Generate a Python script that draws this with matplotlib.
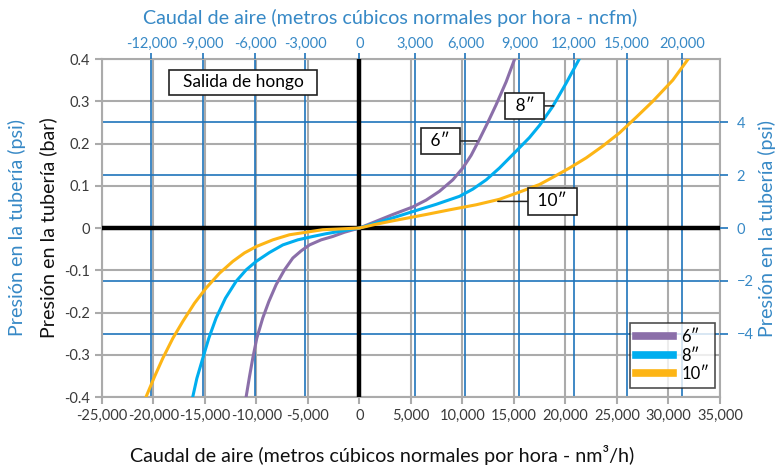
import matplotlib.pyplot as plt

plt.rcParams['font.family'] = ['Lato', 'DejaVu Sans']

# flow in nm3/h, pressure in bar
x_6 = [-11000, -10680, -10360, -9970, -9390, -8800, -8090, -7280, -6470, -5660, -4850, -3720, -2590, -1460, 0,
       1620, 3240, 5180, 6470, 7770, 9060, 10030, 10840, 11650, 12460, 13270, 14240, 15050]
y_6 = [-0.399, -0.352, -0.308, -0.261, -0.213, -0.174, -0.134, -0.099, -0.071, -0.054, -0.040, -0.028, -0.020, -0.010, 0,
       0.016, 0.032, 0.050, 0.066, 0.087, 0.114, 0.142, 0.172, 0.210, 0.250, 0.292, 0.346, 0.399]

x_8 = [-16180, -15790, -15210, -14630, -13920, -13010, -11970, -11000, -10030, -8740, -7440, -5990, -4530, -3240, -1940, 0,
       1620, 3240, 5180, 7440, 9710, 11000, 12300, 13590, 14890, 16500, 17480, 18770, 20070, 21360]
y_8 = [-0.399, -0.356, -0.308, -0.261, -0.213, -0.166, -0.126, -0.099, -0.079, -0.058, -0.040, -0.028, -0.020, -0.0135, -0.008, 0,
       0.012, 0.024, 0.039, 0.056, 0.075, 0.092, 0.114, 0.142, 0.174, 0.214, 0.243, 0.288, 0.343, 0.401]

x_10 = [-20710, -19900, -19090, -18120, -17150, -16020, -14890, -13590, -12300, -11170, -10030, -8410, -6800, -5180, -3560, 0,
        1620, 3240, 6470, 8740, 11330, 13590, 15530, 17480, 18770, 20390, 22010, 23620, 25240, 26860, 28480, 30420, 31880]
y_10 = [-0.399, -0.352, -0.308, -0.261, -0.221, -0.178, -0.142, -0.107, -0.079, -0.059, -0.044, -0.028, -0.016, -0.010, -0.004, 0,
        0.009, 0.017, 0.032, 0.043, 0.055, 0.068, 0.085, 0.103, 0.120, 0.142, 0.166, 0.194, 0.225, 0.262, 0.300, 0.350, 0.399]

bottom_ticks = list(range(-25000, 35001, 5000))
left_ticks = [-0.4, -0.3, -0.2, -0.1, 0, 0.1, 0.2, 0.3, 0.4]
top_pos = [-20220, -15210, -10146, -5243, 0, 5437, 10291, 15534, 20806, 25951, 31330]
top_labels = ['-12,000', '-9,000', '-6,000', '-3,000', '0', '3,000', '6,000', '9,000', '12,000', '15,000', '20,000']
psi_ticks = [-4, -2, 0, 2, 4]
psi_per_bar = 16

purple = '#8b6fa9'
cyan = '#00aeef'
yellow = '#fdb515'
blue = '#1f74bb'
blue_txt = '#3789c6'
grey = '#ababab'
dark = '#3a3a3a'

fig = plt.figure(figsize=(7.82, 4.65), dpi=100)
ax = fig.add_axes([0.1304, 0.1462, 0.7903, 0.7269])

ax.set_xlim(-25000, 35000)
ax.set_ylim(-0.4, 0.4)

for x in bottom_ticks:
    ax.axvline(x, color=grey, lw=1.5, zorder=1)
for y in left_ticks:
    ax.axhline(y, color=grey, lw=1.5, zorder=1)
for x in top_pos:
    ax.axvline(x, color=blue, lw=1.2, zorder=2)
for p in psi_ticks:
    ax.axhline(p / psi_per_bar, color=blue, lw=1.2, zorder=2)
ax.axvline(0, color='black', lw=3.2, zorder=3)
ax.axhline(0, color='black', lw=3.2, zorder=3)

l6, = ax.plot(x_6, y_6, color=purple, lw=2.2, zorder=5, solid_joinstyle='round')
l8, = ax.plot(x_8, y_8, color=cyan, lw=2.2, zorder=5, solid_joinstyle='round')
l10, = ax.plot(x_10, y_10, color=yellow, lw=2.2, zorder=5, solid_joinstyle='round')

ax.set_xticks(bottom_ticks)
ax.set_xticklabels([f'{t:,}' for t in bottom_ticks])
ax.set_yticks(left_ticks)
ax.set_yticklabels(['-0.4', '-0.3', '-0.2', '-0.1', '0', '0.1', '0.2', '0.3', '0.4'])
ax.tick_params(colors=grey, labelcolor=dark, labelsize=10.5, length=5, width=1.5)
for s in ax.spines.values():
    s.set_color(grey)
    s.set_linewidth(1.5)

ax.set_xlabel('Caudal de aire (metros cúbicos normales por hora - nm³/h)', fontsize=14.2, color='#111111', labelpad=16)
ax.xaxis.label.set_x(0.453)
ax.set_ylabel('Presión en la tubería (bar)', fontsize=14.2, color='#111111', labelpad=5)
fig.text(0.022, 0.51, 'Presión en la tubería (psi)', rotation=90, fontsize=14.2, color=blue_txt, ha='center', va='center')

top = ax.twiny()
top.set_xlim(ax.get_xlim())
top.set_xticks(top_pos)
top.set_xticklabels(top_labels)
top.tick_params(colors=blue, labelcolor=blue_txt, labelsize=10.5, length=4, width=1.2, pad=2)
top.set_xlabel('Caudal de aire (metros cúbicos normales por hora - ncfm)', fontsize=14.2, color=blue_txt, labelpad=9)
top.xaxis.label.set_x(0.466)
for s in top.spines.values():
    s.set_visible(False)

right = ax.twinx()
right.set_ylim(-0.4 * psi_per_bar, 0.4 * psi_per_bar)
right.set_yticks(psi_ticks)
right.tick_params(colors=blue, labelcolor=blue_txt, labelsize=10.5, length=6, width=1.2, pad=6)
right.set_ylabel('Presión en la tubería (psi)', fontsize=14.2, color=blue_txt, labelpad=3)
for s in right.spines.values():
    s.set_visible(False)

box = dict(boxstyle='square,pad=0.3', fc='white', ec='#222222', lw=1.2)
line = dict(arrowstyle='-', color='#222222', lw=1.1, shrinkA=0, shrinkB=0)
ax.text(-11290, 0.345, '  Salida de hongo  ', fontsize=12.5, ha='center', va='center',
        bbox=dict(boxstyle='square,pad=0.25', fc='white', ec='#222222', lw=1.2), zorder=6)
ax.annotate(' 6″ ', xy=(11400, 0.206), xytext=(7860, 0.206), fontsize=12.5, ha='center', va='center',
            bbox=box, arrowprops=line, zorder=6)
ax.annotate(' 8″ ', xy=(18850, 0.289), xytext=(16050, 0.289), fontsize=12.5, ha='center', va='center',
            bbox=box, arrowprops=line, zorder=6)
ax.annotate(' 10″ ', xy=(13430, 0.063), xytext=(18720, 0.063), fontsize=12.5, ha='center', va='center',
            bbox=box, arrowprops=line, zorder=6)

leg = ax.legend([l6, l8, l10], ['6″', '8″', '10″'], loc='lower right', bbox_to_anchor=(0.992, 0.027),
                fontsize=12, frameon=True, fancybox=False, handlelength=2.2, handletextpad=0.5,
                borderpad=0.35, labelspacing=0.15, borderaxespad=0)
leg.get_frame().set_edgecolor('#222222')
leg.get_frame().set_linewidth(1.2)
for h in leg.get_lines():
    h.set_linewidth(5.5)
leg.set_zorder(10)

fig.savefig('out.png', dpi=100)
